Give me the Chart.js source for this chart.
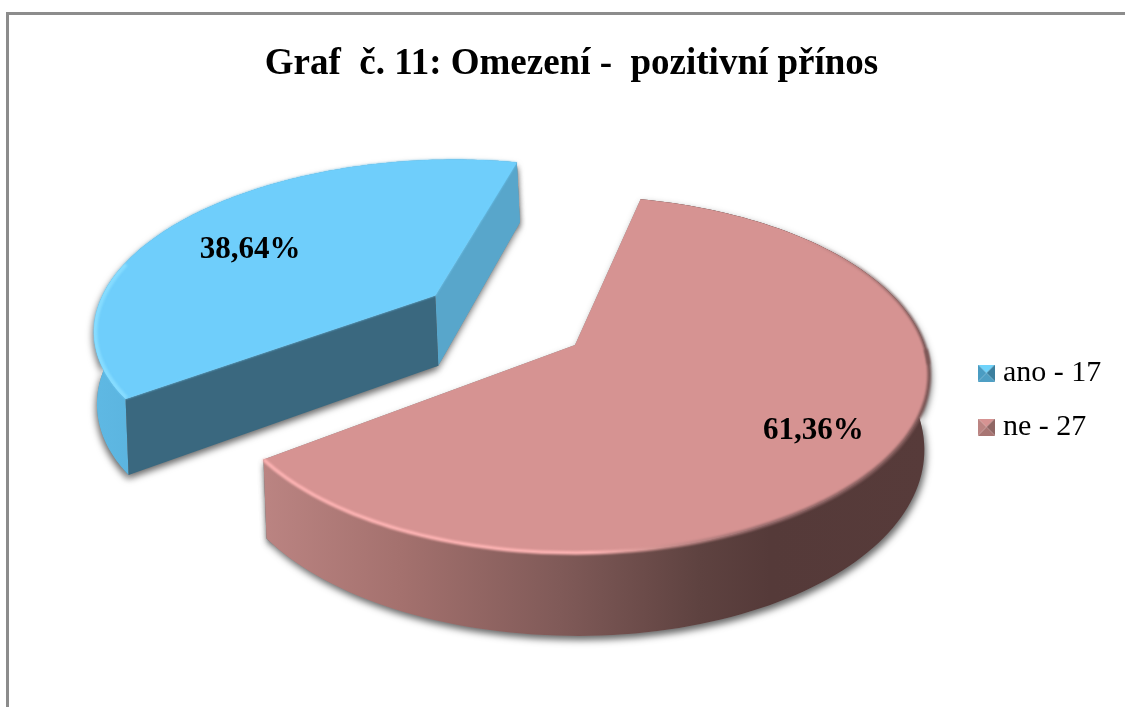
<!DOCTYPE html>
<html>
<head>
<meta charset="utf-8">
<title>Graf č. 11</title>
<script src="https://cdn.jsdelivr.net/npm/chart.js@4"></script>
<style>
    html, body { margin: 0; padding: 0; background: #fff; overflow: hidden; }
    #frame { position: absolute; left: 6px; top: 12px; right: 0; bottom: 0; border-left: 3px solid #8c8c8c; border-top: 3px solid #8c8c8c; }
    canvas { position: absolute; left: 0; top: 0; }
</style>
</head>
<body>
<div id="frame"></div>
<canvas id="chart" width="1125" height="707"></canvas>
<script>
const categories = ['ano', 'ne'];
const counts = [17, 27];
const chartTitle = 'Graf  č. 11: Omezení -  pozitivní přínos';

// look of the 3D pie
const serif = '"Liberation Serif", "Times New Roman", serif';
const topColors = ['#6fcefb', '#d69392'];
const explode = [0.515, 0];
const explodeNudge = [2.4, 0];                  // degrees
const labelSpots = [[0.675, -6.3], [0.78, 3]];  // radius fraction, angle nudge in degrees

// perspective of the pie plane, fitted by eye to the reference
const cx = 575, cy = 345, dist = 6.04, fx = 2110, fy = 1048;

function project(u, v) {
    const w = dist - v;
    return [cx + fx * u / w, cy + fy * v / w];
}

function sliceOffset(arc, index) {
    const dir = (arc.startAngle + arc.endAngle) / 2 + explodeNudge[index] * Math.PI / 180;
    return [Math.cos(dir) * explode[index], Math.sin(dir) * explode[index]];
}

function rimPoints(arc, index, lower) {
    const off = sliceOffset(arc, index);
    const pts = [];
    const steps = 140;
    for (let i = 0; i <= steps; i++) {
        const a = arc.startAngle + (arc.endAngle - arc.startAngle) * i / steps;
        pts.push(planePoint(off[0] + Math.cos(a), off[1] + Math.sin(a), lower));
    }
    return { pts: pts, apex: planePoint(off[0], off[1], lower) };
}

function planePoint(u, v, lower) {
    const p = project(u, v);
    if (lower) {
        p[0] += 3 - 8 * Math.max(u, 0);
        p[1] += 73 + 10 * v;
    }
    return p;
}

function tracePoly(ctx, pts) {
    ctx.beginPath();
    pts.forEach((p, i) => i ? ctx.lineTo(p[0], p[1]) : ctx.moveTo(p[0], p[1]));
}

function fillPoly(ctx, pts, color) {
    tracePoly(ctx, pts);
    ctx.closePath();
    ctx.fillStyle = color;
    ctx.fill();
}

function strokeLine(ctx, pts, color, width) {
    tracePoly(ctx, pts);
    ctx.strokeStyle = color;
    ctx.lineWidth = width;
    ctx.stroke();
}

function xGradient(ctx, stops) {
    const g = ctx.createLinearGradient(0, 0, 1125, 0);
    stops.forEach(s => g.addColorStop(s[0] / 1125, s[1]));
    return g;
}

function drawSlice(ctx, arc, index) {
    const up = rimPoints(arc, index, false);
    const low = rimPoints(arc, index, true);
    const wall = up.pts.concat(low.pts.slice().reverse());
    const faceStart = [up.apex, up.pts[0], low.pts[0], low.apex];
    const faceEnd = [up.apex, up.pts[up.pts.length - 1], low.pts[low.pts.length - 1], low.apex];
    const topFace = up.pts.concat([up.apex]);

    // soft ground shadow
    ctx.save();
    ctx.shadowColor = 'rgba(0,0,0,0.6)';
    ctx.shadowBlur = 7;
    ctx.shadowOffsetX = index ? 2 : -1;
    ctx.shadowOffsetY = 4;
    fillPoly(ctx, wall, '#888');
    fillPoly(ctx, faceStart, '#888');
    fillPoly(ctx, faceEnd, '#888');
    ctx.restore();

    if (index === 0) {
        fillPoly(ctx, wall, xGradient(ctx, [[90, '#5fb9e4'], [135, '#5bb4df']]));
        fillPoly(ctx, faceEnd, '#58a6cb');
        fillPoly(ctx, faceStart, '#3a687f');
    } else {
        fillPoly(ctx, wall, xGradient(ctx, [[262, '#bb8482'], [400, '#a4716e'], [560, '#805a58'], [700, '#5e4240'], [770, '#553a39'], [930, '#573b3a']]));
    }
    fillPoly(ctx, topFace, topColors[index]);

    // bevel along the near part of the rim
    ctx.save();
    ctx.filter = 'blur(1.2px)';
    if (index === 0) {
        fillPoly(ctx, topFace, topColors[index]);
        ctx.clip();
        strokeLine(ctx, up.pts.slice(0, 50), '#86dcff', 7);
    } else {
        const near = up.pts.filter(p => p[1] >= cy);
        const rimColor = xGradient(ctx, [[262, '#ffb4b4'], [590, '#ffb4b4'], [660, '#cf9290'], [760, '#93696a'], [930, '#7c5756']]);
        strokeLine(ctx, near, rimColor, 3.5);
        const far = up.pts.filter(p => p[1] <= cy + 20 && p[0] > 780);
        const fade = ctx.createLinearGradient(800, 240, 925, 345);
        fade.addColorStop(0, 'rgba(124,87,86,0)');
        fade.addColorStop(1, 'rgba(124,87,86,1)');
        strokeLine(ctx, far, fade, 3);
    }
    ctx.restore();
}

function drawPercent(ctx, arc, index, total) {
    const mid = (arc.startAngle + arc.endAngle) / 2;
    const spot = mid + labelSpots[index][1] * Math.PI / 180;
    const off = sliceOffset(arc, index);
    const p = project(off[0] + Math.cos(spot) * labelSpots[index][0], off[1] + Math.sin(spot) * labelSpots[index][0]);
    ctx.save();
    ctx.font = 'bold 31px ' + serif;
    ctx.fillStyle = '#000';
    ctx.textAlign = 'center';
    ctx.textBaseline = 'middle';
    ctx.fillText((counts[index] / total * 100).toFixed(2).replace('.', ',') + '%', p[0], p[1]);
    ctx.restore();
}

const pie3d = {
    id: 'pie3d',
    afterLayout(chart) {
        // legend sits tighter to the right edge than the library would put it
        const pad = chart.options.plugins.legend.labels.padding;
        chart.legend.left = 985 - pad;
        chart.legend.top = 358 - pad;
    },
    beforeDatasetDraw(chart, args) {
        const ctx = chart.ctx;
        const total = counts.reduce((a, b) => a + b, 0);
        args.meta.data.forEach((arc, i) => drawSlice(ctx, arc, i));
        args.meta.data.forEach((arc, i) => drawPercent(ctx, arc, i, total));
        return false;
    }
};

function legendMarker(shades) {
    const c = document.createElement('canvas');
    c.width = 17;
    c.height = 17;
    const m = c.getContext('2d');
    const tri = (a, b, color) => {
        m.beginPath();
        m.moveTo(a[0], a[1]);
        m.lineTo(b[0], b[1]);
        m.lineTo(8.5, 8.5);
        m.closePath();
        m.fillStyle = color;
        m.fill();
    };
    tri([0, 0], [17, 0], shades[0]);
    tri([17, 0], [17, 17], shades[1]);
    tri([17, 17], [0, 17], shades[2]);
    tri([0, 17], [0, 0], shades[3]);
    return c;
}

const markers = [
    legendMarker(['#6fd3fb', '#3c7f9e', '#4f9fc4', '#4a9cc2']),
    legendMarker(['#d69392', '#8f6664', '#a87573', '#bb8482'])
];

new Chart(document.getElementById('chart'), {
    type: 'pie',
    data: {
        labels: categories.map((c, i) => c + ' - ' + counts[i]),
        datasets: [{
            data: counts,
            backgroundColor: topColors,
            borderWidth: 0
        }]
    },
    options: {
        responsive: false,
        animation: false,
        rotation: -126.5,
        layout: { padding: { left: 18 } },
        plugins: {
            tooltip: { enabled: false },
            title: {
                display: true,
                text: chartTitle,
                color: '#000',
                font: { family: serif, size: 37, weight: 'bold' },
                padding: { top: 42, bottom: 10 }
            },
            legend: {
                position: 'right',
                align: 'start',
                labels: {
                    color: '#000',
                    font: { family: serif, size: 30 },
                    padding: 24,
                    usePointStyle: true,
                    pointStyleWidth: 3,
                    generateLabels(chart) {
                        return chart.data.labels.map((text, i) => ({
                            text: text,
                            fillStyle: topColors[i],
                            strokeStyle: topColors[i],
                            lineWidth: 0,
                            pointStyle: markers[i],
                            index: i
                        }));
                    }
                }
            }
        }
    },
    plugins: [pie3d]
});
</script>
</body>
</html>
